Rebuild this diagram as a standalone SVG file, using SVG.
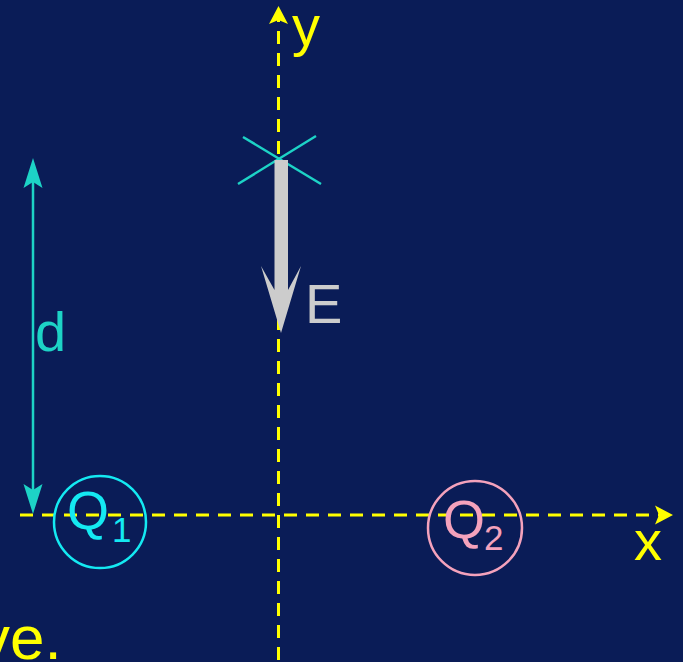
<svg xmlns="http://www.w3.org/2000/svg" width="683" height="662" viewBox="0 0 683 662">
<style>
text{font-family:"Liberation Sans",Arial,sans-serif}
.axis{stroke:#ffff00;stroke-width:3;stroke-dasharray:13 9;fill:none}
.yl{fill:#ffff00;font-size:56px}
.teal{stroke:#1dd3c6;stroke-width:2.5;fill:none}
</style>
<defs>
<marker id="axhead" markerUnits="userSpaceOnUse" orient="auto" overflow="visible" refX="0" refY="0" markerWidth="20" markerHeight="20">
<path d="M14,0 L-4,-9.5 L0,0 L-4,9.5 Z" fill="#ffff00" stroke="none"/>
</marker>
<marker id="dhead" markerUnits="userSpaceOnUse" orient="auto-start-reverse" overflow="visible" refX="0" refY="0" markerWidth="30" markerHeight="20">
<path d="M24,0 L-6,-9.5 L0,0 L-6,9.5 Z" fill="#1dd3c6" stroke="none"/>
</marker>
</defs>
<rect width="683" height="662" fill="#0a1c57"/>
<g id="connectors">
<line class="axis" x1="278.5" y1="660" x2="278.5" y2="20" marker-end="url(#axhead)" style="stroke-dashoffset:0"/>
<line class="axis" x1="20" y1="515" x2="659" y2="515" marker-end="url(#axhead)"/>
<line class="teal" x1="33" y1="182" x2="33" y2="490" stroke-width="3" marker-start="url(#dhead)" marker-end="url(#dhead)"/>
</g>
<g id="point">
<line class="teal" x1="243" y1="137" x2="321" y2="184"/>
<line class="teal" x1="316" y1="136" x2="238" y2="184"/>
</g>
<g id="field-E">
<polygon points="274.5,160 288,160 288,290 301,266 281,333 261,266 274.5,290" fill="#cccccc"/>
<text x="305" y="323" style="font-size:56px" fill="#cccccc">E</text>
</g>
<g id="Q1">
<circle cx="100" cy="522" r="46" fill="none" stroke="#14e9f2" stroke-width="2.5"/>
<text x="67" y="529" fill="#14e9f2" style="font-size:54px">Q<tspan dx="3" dy="13" style="font-size:35px">1</tspan></text>
</g>
<g id="Q2">
<circle cx="475" cy="528" r="47" fill="none" stroke="#f4a2bc" stroke-width="2.5"/>
<text x="443" y="538" fill="#f4a2bc" style="font-size:54px">Q<tspan dx="-1" dy="12" style="font-size:35px">2</tspan></text>
</g>
<g id="labels">
<text class="yl" x="292" y="45">y</text>
<text class="yl" x="634" y="560">x</text>
<text x="35" y="351" fill="#1dd3c6" style="font-size:56px">d</text>
<text class="yl" x="-21" y="659" style="font-size:62px">ve.</text>
</g>
</svg>
